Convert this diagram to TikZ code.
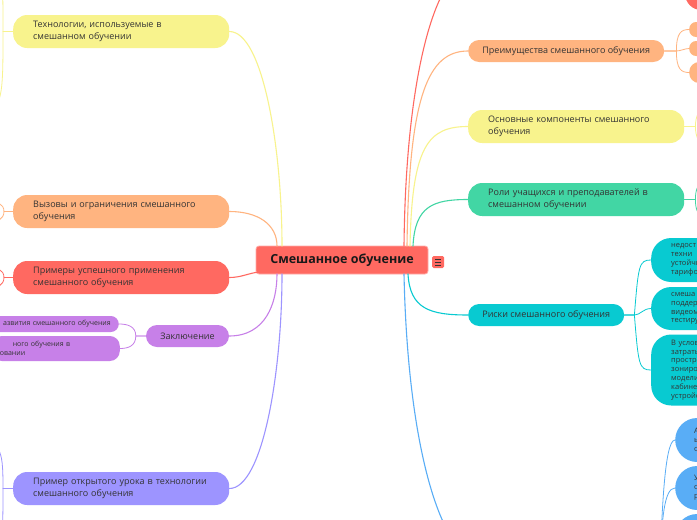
\documentclass[tikz,border=0pt]{standalone}
\usepackage{fontspec}
\setmainfont{Open Sans}
% Цвета ветвей
\definecolor{cred}{HTML}{FF6961}
\definecolor{corg}{HTML}{FFB480}
\definecolor{cyel}{HTML}{F8F38D}
\definecolor{cgrn}{HTML}{42D6A4}
\definecolor{ctea}{HTML}{08CAD1}
\definecolor{cblu}{HTML}{59ADF6}
\definecolor{clav}{HTML}{9D94FF}
\definecolor{cpur}{HTML}{C780E8}
\definecolor{ink}{HTML}{333333}
\tikzset{
  hub/.style={rectangle, rounded corners=3pt, fill=cred, draw=cred!55!white, line width=0.8pt,
    minimum width=172pt, minimum height=28pt, inner sep=0pt,
    font=\fontsize{12.5}{14}\selectfont\bfseries, text=black!90},
  topic/.style={rectangle, rounded corners=14pt, minimum height=33pt, text width=176pt,
    inner xsep=20pt, inner ysep=0pt, align=left, text=ink},
  topicone/.style={rectangle, rounded corners=11pt, minimum height=22pt,
    inner xsep=0pt, inner ysep=0pt, text=ink},
  leaf/.style={rectangle, minimum width=60pt, inner sep=0pt},
  note/.style={rectangle, rounded corners=20pt, text width=60pt, inner xsep=20pt,
    inner ysep=0pt, align=left, font=\fontsize{7.5}{8.8}\selectfont, text=ink},
  link/.style={line width=1.1pt},
  sublink/.style={line width=0.8pt}
}
\begin{document}
\begin{tikzpicture}[x=1pt, y=-1pt, font=\fontsize{9}{12}\selectfont, line cap=round]
  \useasboundingbox (0,0) rectangle (697,520);
  \clip (0,0) rectangle (697,520);
  \fill[white] (0,0) rectangle (697,520);
  % Точки на центральной теме и концы за краем
  \path
  (282,246) coordinate (hubT1)
  (277,246) coordinate (hubT2)
  (259,272) coordinate (hubW)
  (277,274) coordinate (hubB1)
  (282,274) coordinate (hubB2)
  (404,246) coordinate (hubR1)
  (407,246) coordinate (hubR2)
  (410,246) coordinate (hubR3)
  (413,246) coordinate (hubR4)
  (408,274) coordinate (hubS1)
  (404,274) coordinate (hubS2)
  (468,-30) coordinate (topT)
  (480,560) coordinate (blueT)
  (660,560) coordinate (blueJ)
  (-20,-48) coordinate (techA)
  (-20,112) coordinate (techB)
  (-12,201) coordinate (chalA)
  (-12,223) coordinate (chalB)
  (-12,267) coordinate (examA)
  (-12,289) coordinate (examB)
  (-20,440) coordinate (lessA)
  (-20,560) coordinate (lessB)
  (720,100) coordinate (compA)
  (720,153) coordinate (compB)
  (716,180) coordinate (roleA)
  (716,219) coordinate (roleB);
  % Центральная тема
  \node[hub] (hub) at (342,260) {Смешанное обучение};
  \node[rectangle, rounded corners=1.5pt, fill=cred, minimum size=12pt, inner sep=0pt, anchor=west] (menu) at (432,262) {};
  \foreach \dy in {-3,0,3}
  \draw[ink, line width=0.8pt, line cap=butt] ([xshift=3pt, yshift=\dy pt]menu.west) -- ++(6,0);
  % Левые ветви
  \node[topic, fill=cyel, anchor=west] (tech) at (13,31.5) {Технологии, используемые в\\смешанном обучении};
  \node[topic, fill=corg, anchor=west] (chal) at (13,211.5) {Вызовы и ограничения смешанного\\обучения};
  \node[topic, fill=cred, anchor=west] (exam) at (13,277.5) {Примеры успешного применения\\смешанного обучения};
  \node[topicone, fill=cpur, minimum width=83pt] (concl) at (187.5,336) {Заключение};
  \node[topic, fill=clav, anchor=west] (lesson) at (13,488.5) {Пример открытого урока в технологии\\смешанного обучения};
  \node[leaf, fill=cpur, rounded corners=8pt, minimum height=16pt, anchor=east, text width=111pt, inner xsep=8pt,
    align=right, font=\fontsize{7}{8.7}\selectfont, text=ink] (endA) at (119,324) {азвития смешанного обучения};
  \node[leaf, fill=cpur, rounded corners=10pt, minimum height=25pt, anchor=east, text width=112pt, inner xsep=8pt,
    align=left, font=\fontsize{7}{8.7}\selectfont, text=ink] (endB) at (120,348.5) {\hspace*{13pt}ного обучения в\\овании};
  % Правые ветви
  \node[topicone, fill=corg, minimum width=196pt, anchor=west] (adv) at (468,51) {Преимущества смешанного обучения};
  \node[topic, fill=cyel, anchor=west] (comp) at (468,126.5) {Основные компоненты смешанного\\обучения};
  \node[topic, fill=cgrn, anchor=west] (role) at (468,199.5) {Роли учащихся и преподавателей в\\смешанном обучении};
  \node[topicone, fill=ctea, minimum width=156pt, anchor=west] (risk) at (468,315) {Риски смешанного обучения};
  % Подтемы у правого края
  \node[leaf, fill=cred, rounded corners=16pt, minimum height=40pt, anchor=west] (topA) at (685,-10) {};
  \node[leaf, fill=corg, rounded corners=7pt, minimum height=15pt, anchor=west] (advA) at (689,29.5) {};
  \node[leaf, fill=corg, rounded corners=7pt, minimum height=15pt, anchor=west] (advB) at (689,48.5) {};
  \node[leaf, fill=corg, rounded corners=10pt, minimum height=21pt, anchor=west] (advC) at (689,72.5) {};
  \node[note, fill=ctea, minimum height=44pt, anchor=west] (riskA) at (651,260) {недост\\техни\\устойчи\\тарифо};
  \node[note, fill=ctea, minimum height=43pt, anchor=west] (riskB) at (651,308.5) {смеша\\поддер\\видеом\\тестиру};
  \node[note, fill=ctea, minimum height=71pt, anchor=west] (riskC) at (651,370) {В услови\\затраты\\пространс\\зонирова\\модели «\\кабинет\\устройст};
  \node[note, fill=cblu, rounded corners=22pt, minimum height=44pt, inner xsep=19pt, anchor=west] (blueA) at (675,440) {А\\ы\\о};
  \node[note, fill=cblu, rounded corners=22pt, minimum height=44pt, inner xsep=19pt, anchor=west] (blueB) at (675,488) {У\\о\\р};
  \node[note, fill=cblu, rounded corners=22pt, minimum height=44pt, inner xsep=19pt, anchor=west] (blueC) at (675,536) {};
  % Связи центральной темы
  \draw[link, cyel] (tech.east) .. controls +(33,0) and +(0,-100) .. (hubT1);
  \draw[link, corg] (chal.east) .. controls +(28,0) and +(0,-22) .. (hubT2);
  \draw[link, cred] (exam.east) .. controls +(12,0) and +(-10,1) .. (hubW);
  \draw[link, cpur] (concl.east) .. controls +(36,0) and +(0,30) .. (hubB1);
  \draw[link, clav] (lesson.east) .. controls +(33,0) and +(0,100) .. (hubB2);
  \draw[link, cred] (hubR1) .. controls +(2,-186) and +(-28,0) .. (topT);
  \draw[link, corg] (hubR2) .. controls +(2,-150) and +(-40,0) .. (adv.west);
  \draw[link, cyel] (hubR3) .. controls +(2,-100) and +(-40,0) .. (comp.west);
  \draw[link, cgrn] (hubR4) .. controls +(2,-40) and +(-35,0) .. (role.west);
  \draw[link, ctea] (hubS1) .. controls +(2,35) and +(-38,0) .. (risk.west);
  \draw[link, cblu] (hubS2) .. controls +(4,186) and +(-35,0) .. (blueT);
  % Связи подтем слева
  \draw[sublink, cyel] (tech.west) -- ++(-10,0) .. controls +(0,-62) and +(23,0) .. (techA);
  \draw[sublink, cyel] (tech.west) -- ++(-10,0) .. controls +(0,64) and +(23,0) .. (techB);
  \foreach \n/\a/\b/\c in {chal/chalA/chalB/corg, exam/examA/examB/cred}{
    \draw[sublink, \c] (\n.west) -- ++(-9,0) .. controls +(0,-8) and +(8,0) .. (\a);
    \draw[sublink, \c] (\n.west) -- ++(-9,0) .. controls +(0,8) and +(8,0) .. (\b);
  }
  \draw[sublink, clav] (lesson.west) -- ++(-10,0) .. controls +(0,-34) and +(22,2) .. (lessA);
  \draw[sublink, clav] (lesson.west) -- ++(-10,0) .. controls +(0,52) and +(23,0) .. (lessB);
  \draw[sublink, cpur] (concl.west) -- ++(-10,0) .. controls +(0,-10) and +(8,0) .. (endA.east);
  \draw[sublink, cpur] (concl.west) -- ++(-10,0) .. controls +(0,10) and +(8,0) .. (endB.east);
  % Связи подтем справа
  \draw[sublink, corg] (adv.east) -- ++(12,0) .. controls +(0,-18) and +(-8,0) .. (advA.west);
  \draw[sublink, corg] (adv.east) -- ++(12,0) .. controls +(4,0) and +(-4,0) .. (advB.west);
  \draw[sublink, corg] (adv.east) -- ++(12,0) .. controls +(0,18) and +(-8,0) .. (advC.west);
  \foreach \n/\a/\b/\c in {comp/compA/compB/cyel, role/roleA/roleB/cgrn}{
    \draw[sublink, \c] (\n.east) -- ++(11,0) .. controls +(0,-20) and +(-10,0) .. (\a);
    \draw[sublink, \c] (\n.east) -- ++(11,0) .. controls +(0,20) and +(-10,0) .. (\b);
  }
  \draw[sublink, ctea] (risk.east) -- ++(10,0) .. controls +(4,-50) and +(-12,0) .. (riskA.west);
  \draw[sublink, ctea] (risk.east) -- ++(10,0) .. controls +(6,0) and +(-8,0) .. (riskB.west);
  \draw[sublink, ctea] (risk.east) -- ++(10,0) .. controls +(4,50) and +(-12,0) .. (riskC.west);
  \foreach \b in {blueA, blueB, blueC}
  \draw[sublink, cblu] (blueJ) .. controls +(2,-40) and +(-11,0) .. (\b.west);
\end{tikzpicture}
\end{document}
